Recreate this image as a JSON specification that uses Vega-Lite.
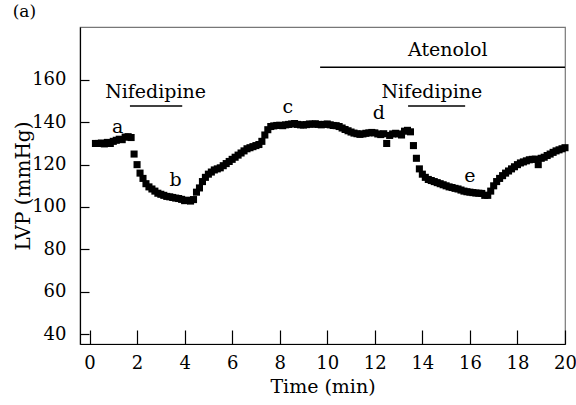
{
  "$schema": "https://vega.github.io/schema/vega-lite/v6.json",
  "autosize": {"type": "none"},
  "padding": {"left": 80, "top": 27, "right": 11, "bottom": 61},
  "width": 485,
  "height": 317,
  "background": "white",
  "title": {"text": "(a)", "anchor": "start", "frame": "bounds", "font": "DejaVu Serif", "fontSize": 17, "fontWeight": "normal", "offset": 6, "dx": -1, "color": "black"},
  "config": {
    "view": {"stroke": "#777", "strokeWidth": 1.2},
    "font": "DejaVu Serif",
    "text": {"font": "DejaVu Serif"}
  },
  "datasets": {
    "lvp": [
      {"t":0.25,"p":130},{"t":0.375,"p":130},{"t":0.5,"p":130.2},{"t":0.625,"p":129.8},{"t":0.75,"p":130.5},{"t":0.875,"p":130},{"t":1.0,"p":131},{"t":1.125,"p":131.5},{"t":1.25,"p":132},{"t":1.375,"p":131.8},{"t":1.5,"p":133},{"t":1.625,"p":133.2},{"t":1.75,"p":132.8},
      {"t":1.875,"p":125},{"t":2.0,"p":120},{"t":2.125,"p":116},{"t":2.25,"p":113.5},{"t":2.375,"p":111},{"t":2.5,"p":109.5},{"t":2.625,"p":108.5},{"t":2.75,"p":107.5},{"t":2.875,"p":106.5},{"t":3.0,"p":106},{"t":3.125,"p":105.5},{"t":3.25,"p":105},{"t":3.375,"p":104.8},{"t":3.5,"p":104.5},{"t":3.625,"p":104.2},{"t":3.75,"p":104},{"t":3.875,"p":103.6},{"t":4.0,"p":103},{"t":4.125,"p":103.2},{"t":4.25,"p":102.8},{"t":4.375,"p":103.5},
      {"t":4.5,"p":107},{"t":4.625,"p":109},{"t":4.75,"p":112},{"t":4.875,"p":114},{"t":5.0,"p":115.5},{"t":5.125,"p":116.5},{"t":5.25,"p":117.5},{"t":5.375,"p":118},{"t":5.5,"p":118.5},{"t":5.625,"p":119.5},{"t":5.75,"p":120.5},{"t":5.875,"p":121.5},{"t":6.0,"p":122.5},{"t":6.125,"p":123.5},{"t":6.25,"p":124.5},{"t":6.375,"p":125.5},{"t":6.5,"p":126.5},{"t":6.625,"p":127.5},{"t":6.75,"p":128},{"t":6.875,"p":128.5},{"t":7.0,"p":129},{"t":7.125,"p":129.5},{"t":7.25,"p":131},{"t":7.375,"p":134},{"t":7.5,"p":136.5},{"t":7.625,"p":138},
      {"t":7.75,"p":138.3},{"t":7.875,"p":138.5},{"t":8.0,"p":138.6},{"t":8.125,"p":138.4},{"t":8.25,"p":138.8},{"t":8.375,"p":139},{"t":8.5,"p":139.2},{"t":8.625,"p":139.4},{"t":8.75,"p":139},{"t":8.875,"p":138.8},{"t":9.0,"p":138.7},{"t":9.125,"p":138.9},{"t":9.25,"p":139.2},{"t":9.375,"p":139.1},{"t":9.5,"p":139.3},{"t":9.625,"p":139},{"t":9.75,"p":138.8},{"t":9.875,"p":139},{"t":10.0,"p":139.2},{"t":10.125,"p":138.8},{"t":10.25,"p":138.5},{"t":10.375,"p":138.4},{"t":10.5,"p":138},{"t":10.625,"p":137.3},{"t":10.75,"p":136.6},{"t":10.875,"p":136},{"t":11.0,"p":135.4},{"t":11.125,"p":134.9},{"t":11.25,"p":134.6},{"t":11.375,"p":134.3},{"t":11.5,"p":134.5},{"t":11.625,"p":134.8},{"t":11.75,"p":135},{"t":11.875,"p":135.2},{"t":12.0,"p":135},{"t":12.125,"p":134.5},{"t":12.25,"p":134.2},{"t":12.375,"p":134.6},{"t":12.5,"p":130},{"t":12.625,"p":133.8},{"t":12.75,"p":134.5},{"t":12.875,"p":134.8},{"t":13.0,"p":134.5},{"t":13.125,"p":134},{"t":13.25,"p":135.8},{"t":13.375,"p":136.2},{"t":13.5,"p":135.5},
      {"t":13.625,"p":129},{"t":13.75,"p":123},{"t":13.875,"p":118},{"t":14.0,"p":115.5},{"t":14.125,"p":114},{"t":14.25,"p":113},{"t":14.375,"p":112.5},{"t":14.5,"p":112},{"t":14.625,"p":111.5},{"t":14.75,"p":111},{"t":14.875,"p":110.5},{"t":15.0,"p":110},{"t":15.125,"p":109.5},{"t":15.25,"p":109.2},{"t":15.375,"p":108.8},{"t":15.5,"p":108.5},{"t":15.625,"p":108},{"t":15.75,"p":107.5},{"t":15.875,"p":107.2},{"t":16.0,"p":107},{"t":16.125,"p":106.8},{"t":16.25,"p":106.6},{"t":16.375,"p":106.5},{"t":16.5,"p":106.4},{"t":16.625,"p":105.5},{"t":16.75,"p":105.5},
      {"t":16.875,"p":107.5},{"t":17.0,"p":110},{"t":17.125,"p":112},{"t":17.25,"p":113.5},{"t":17.375,"p":114.8},{"t":17.5,"p":116},{"t":17.625,"p":117},{"t":17.75,"p":118},{"t":17.875,"p":119},{"t":18.0,"p":120},{"t":18.125,"p":120.8},{"t":18.25,"p":121.3},{"t":18.375,"p":121.8},{"t":18.5,"p":122.3},{"t":18.625,"p":122.5},{"t":18.75,"p":122.6},{"t":18.875,"p":120},{"t":19.0,"p":123},{"t":19.125,"p":123.5},{"t":19.25,"p":124.3},{"t":19.375,"p":125},{"t":19.5,"p":125.8},{"t":19.625,"p":126.5},{"t":19.75,"p":127},{"t":19.875,"p":127.5},{"t":20.0,"p":128}
    ],
    "bars": [
      {"x1": 9.7, "x2": 20, "y": 166},
      {"x1": 1.7, "x2": 3.9, "y": 147.7},
      {"x1": 13.4, "x2": 15.8, "y": 147.7}
    ],
    "labels": [
      {"x": 15.07, "y": 174.2, "txt": "Atenolol"},
      {"x": 2.78, "y": 154.3, "txt": "Nifedipine"},
      {"x": 14.4, "y": 154.3, "txt": "Nifedipine"},
      {"x": 1.18, "y": 137.8, "txt": "a"},
      {"x": 3.62, "y": 112.7, "txt": "b"},
      {"x": 8.34, "y": 147.2, "txt": "c"},
      {"x": 12.17, "y": 144.4, "txt": "d"},
      {"x": 16.0, "y": 114.6, "txt": "e"}
    ]
  },
  "layer": [
    {
      "data": {"name": "lvp"},
      "mark": {"type": "square", "size": 50, "color": "black", "filled": true, "opacity": 1},
      "encoding": {
        "x": {"field": "t", "type": "quantitative",
          "scale": {"domain": [-0.4, 20], "nice": false, "zero": false},
          "axis": {"title": "Time (min)", "values": [0,1,2,3,4,5,6,7,8,9,10,11,12,13,14,15,16,17,18,19,20],
            "labelExpr": "datum.value % 2 === 0 ? datum.label : ''",
            "grid": false, "domainColor": "black", "domainWidth": 1.2, "tickColor": "black", "tickWidth": 1.2,
            "tickSize": {"condition": {"test": "datum.value % 2 === 0", "value": -14}, "value": -7},
            "labelFont": "DejaVu Serif", "labelFontSize": 18, "labelColor": "black", "labelPadding": 24,
            "titleFont": "DejaVu Serif", "titleFontSize": 19, "titleFontWeight": "normal", "titleColor": "black", "titlePadding": 5,
            "labelFlush": false, "labelOverlap": false}
        },
        "y": {"field": "p", "type": "quantitative",
          "scale": {"domain": [35.3, 185], "nice": false, "zero": false},
          "axis": {"title": "LVP (mmHg)", "values": [40,50,60,70,80,90,100,110,120,130,140,150,160],
            "labelExpr": "datum.value % 20 === 0 ? datum.label : ''",
            "grid": false, "domainColor": "black", "domainWidth": 1.2, "tickColor": "black", "tickWidth": 1.2,
            "tickSize": {"condition": {"test": "datum.value % 20 === 0", "value": -9}, "value": -6},
            "labelFont": "DejaVu Serif", "labelFontSize": 18, "labelColor": "black", "labelPadding": 23,
            "titleFont": "DejaVu Serif", "titleFontSize": 20, "titleFontWeight": "normal", "titleColor": "black", "titlePadding": -2,
            "labelOverlap": false}
        }
      }
    },
    {
      "data": {"name": "bars"},
      "mark": {"type": "rule", "color": "black", "strokeWidth": 1.3},
      "encoding": {
        "x": {"field": "x1", "type": "quantitative"},
        "x2": {"field": "x2"},
        "y": {"field": "y", "type": "quantitative"}
      }
    },
    {
      "data": {"name": "labels"},
      "mark": {"type": "text", "font": "DejaVu Serif", "fontSize": 19, "color": "black", "align": "center", "baseline": "middle"},
      "encoding": {
        "x": {"field": "x", "type": "quantitative"},
        "y": {"field": "y", "type": "quantitative"},
        "text": {"field": "txt"}
      }
    }
  ]
}
